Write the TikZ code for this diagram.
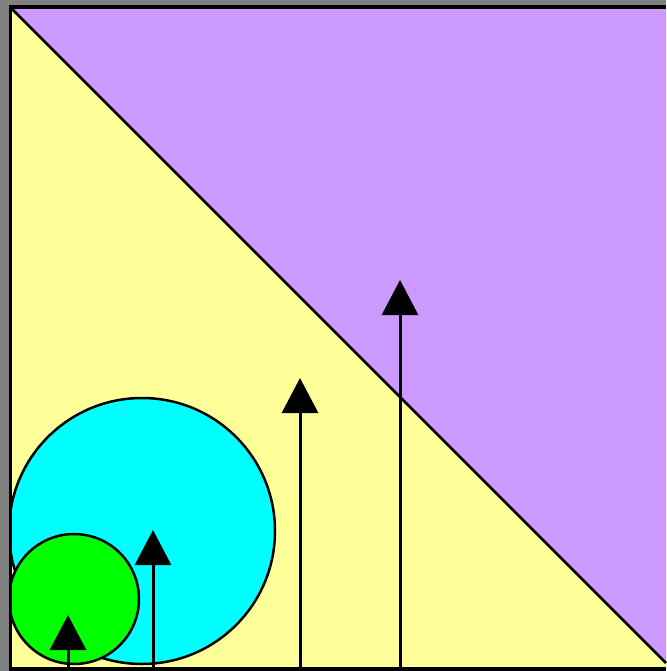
\documentclass[tikz,border=0pt]{standalone}
\usepackage{tikz}
\usetikzlibrary{arrows.meta}

\definecolor{frameGray}{HTML}{808080}
\definecolor{sky}{HTML}{CC99FF}
\definecolor{ground}{HTML}{FFFF99}
\definecolor{bigBall}{HTML}{00FFFF}
\definecolor{smallBall}{HTML}{00FF00}

\begin{document}
\begin{tikzpicture}[
    x=1pt, y=-1pt,
    outline/.style={draw=black, line width=2.5pt},
    tree/.style={line width=3pt, -{Triangle[length=35pt, width=36pt]}}
]
\useasboundingbox (0,0) rectangle (666,671);

% Background
\fill[frameGray] (0,0) rectangle (666,671);
\fill[ground] (12,9) rectangle (666,667);

% Upper region
\fill[sky] (12,9) -- (666,9) -- (666,663) -- cycle;
\draw[line width=2.5pt] (12,9) -- (666,663);

% Circles
\begin{scope}
  \clip (12,9) rectangle (666,667);
  \draw[outline, fill=bigBall] (142,531) circle[radius=133];
  \draw[outline, fill=smallBall] (74,599) circle[radius=65];
\end{scope}

% Arrows
\foreach \px/\tip in {68/615, 153/530, 300/378, 400/280}
  \draw[tree] (\px,667) -- (\px,\tip);

% Frame
\fill[black] (9,5) rectangle (666,9);
\fill[black] (9,5) rectangle (12,671);
\fill[black] (9,667) rectangle (666,671);

\end{tikzpicture}
\end{document}
